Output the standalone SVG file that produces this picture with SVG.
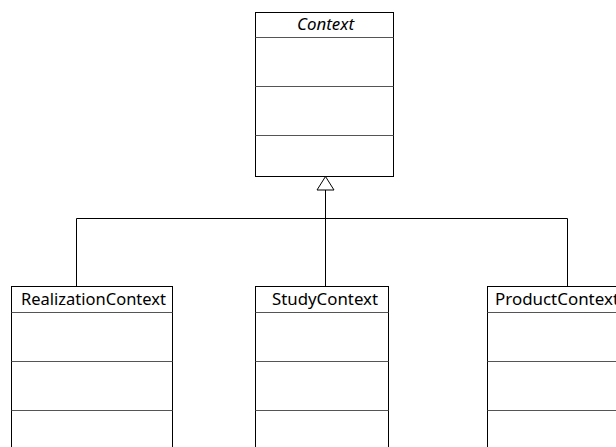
<svg xmlns="http://www.w3.org/2000/svg" width="616" height="447" viewBox="0 0 616 447">
<style>
.box{fill:#fff;stroke:#000;stroke-width:1}
.sep{stroke:#555;stroke-width:1}
.t{font-family:"Noto Sans","Open Sans",sans-serif;font-size:16.5px;fill:#000}
.con{fill:none;stroke:#000;stroke-width:1}
</style>
<rect width="616" height="447" fill="#fff"/>
<g id="connectors">
<polyline class="con" points="76.5,286 76.5,218.5 567.5,218.5 567.5,286"/>
<line class="con" x1="325.5" y1="190" x2="325.5" y2="286"/>
<polygon points="325.5,176.5 317,190 334,190" fill="#fff" stroke="#000"/>
</g>
<g id="Context">
<rect class="box" x="255.5" y="12.5" width="138" height="164"/>
<line class="sep" x1="255.5" y1="37.5" x2="393.5" y2="37.5"/>
<line class="sep" x1="255.5" y1="86.5" x2="393.5" y2="86.5"/>
<line class="sep" x1="255.5" y1="135.5" x2="393.5" y2="135.5"/>
<text class="t" x="297" y="30" font-style="italic" textLength="57" lengthAdjust="spacingAndGlyphs">Context</text>
</g>
<g id="RealizationContext">
<rect class="box" x="11.5" y="286.5" width="161" height="170"/>
<line class="sep" x1="11.5" y1="312.5" x2="172.5" y2="312.5"/>
<line class="sep" x1="11.5" y1="361.5" x2="172.5" y2="361.5"/>
<line class="sep" x1="11.5" y1="410.5" x2="172.5" y2="410.5"/>
<text class="t" x="21" y="305" textLength="145" lengthAdjust="spacingAndGlyphs">RealizationContext</text>
</g>
<g id="StudyContext">
<rect class="box" x="255.5" y="286.5" width="133" height="170"/>
<line class="sep" x1="255.5" y1="312.5" x2="388.5" y2="312.5"/>
<line class="sep" x1="255.5" y1="361.5" x2="388.5" y2="361.5"/>
<line class="sep" x1="255.5" y1="410.5" x2="388.5" y2="410.5"/>
<text class="t" x="272" y="305" textLength="106" lengthAdjust="spacingAndGlyphs">StudyContext</text>
</g>
<g id="ProductContext">
<rect class="box" x="487.5" y="286.5" width="150" height="170"/>
<line class="sep" x1="487.5" y1="312.5" x2="637.5" y2="312.5"/>
<line class="sep" x1="487.5" y1="361.5" x2="637.5" y2="361.5"/>
<line class="sep" x1="487.5" y1="410.5" x2="637.5" y2="410.5"/>
<text class="t" x="495" y="305" textLength="124" lengthAdjust="spacingAndGlyphs">ProductContext</text>
</g>
</svg>
